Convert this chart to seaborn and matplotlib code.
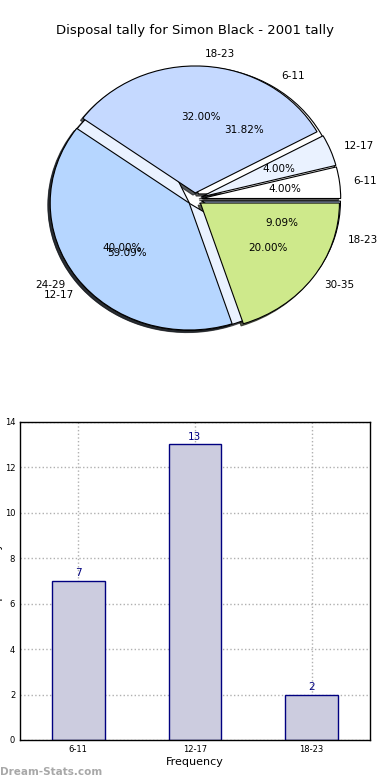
import matplotlib
matplotlib.use('Agg')
import matplotlib.pyplot as plt
import pandas as pd
import seaborn as sns

# overall tally (outer labels)
season_groups = ['6-11', '12-17', '18-23', '24-29', '30-35']
season_counts = [1, 1, 8, 10, 5]

# 2001 tally
year_groups = ['6-11', '12-17', '18-23']
year_counts = [7, 13, 2]

pie_colors = ['#ffffff', '#eaf2ff', '#c5d9ff', '#b6d6ff', '#cee98b']

sns.set_style('white')
plt.rcParams['font.family'] = ['DejaVu Sans']
plt.rcParams['text.color'] = 'black'
plt.rcParams['axes.labelcolor'] = 'black'
plt.rcParams['xtick.color'] = 'black'
plt.rcParams['ytick.color'] = 'black'

fig = plt.figure(figsize=(3.9, 7.8), dpi=100)

# ---- pie section ----
ax_pie = fig.add_axes([0.054, 0.541, 0.891, 0.407])
wedge_kw = {'edgecolor': 'black', 'linewidth': 0.8}
shadow_kw = {'ox': -0.012, 'oy': -0.012, 'shade': 0.85, 'alpha': 0.75}

ax_pie.pie(year_counts, labels=year_groups, colors=pie_colors[:3],
           explode=[0.05] * len(year_counts), autopct='%1.2f%%',
           shadow=shadow_kw, wedgeprops=wedge_kw, textprops={'fontsize': 7.5})
ax_pie.pie(season_counts, labels=season_groups, colors=pie_colors,
           explode=[0.05] * len(season_counts), autopct='%1.2f%%',
           shadow=shadow_kw, wedgeprops=wedge_kw, textprops={'fontsize': 7.5})
ax_pie.set_aspect('auto')
ax_pie.set_xlim(-1.25, 1.25)
ax_pie.set_ylim(-1.25, 1.25)
ax_pie.set_title('Disposal tally for Simon Black - 2001 tally', fontsize=9.5, pad=4.5)

# ---- bar section ----
df_bar = pd.DataFrame({'Age': year_groups, 'Tally': year_counts})

ax_bar = fig.add_axes([0.0513, 0.0513, 0.897, 0.408])
sns.barplot(data=df_bar, x='Age', y='Tally', order=year_groups, ax=ax_bar,
            color='#ccccdf', edgecolor='#000080', linewidth=1.0,
            width=0.45, saturation=1)
for i, v in enumerate(year_counts):
    ax_bar.text(i, v + 0.12, str(v), ha='center', va='bottom',
                color='#000080', fontsize=7.5)

ax_bar.set_xlim(-0.5, 2.5)
ax_bar.set_ylim(0, 14)
ax_bar.set_yticks(range(0, 15, 2))
ax_bar.grid(True, linestyle=':', color='#b0b0b0', linewidth=1.0)
ax_bar.set_axisbelow(True)
ax_bar.tick_params(labelsize=6, length=2, direction='in')
ax_bar.set_xlabel('Frequency', fontsize=8, labelpad=2)
ax_bar.set_ylabel('Disposal Tally', fontsize=8)
ax_bar.yaxis.set_label_coords(-0.048, 0.5)
for s in ax_bar.spines.values():
    s.set_visible(True)
    s.set_color('black')
    s.set_linewidth(1.0)

fig.text(0.0, 0.004, 'Dream-Stats.com', color='#a8a8a8', fontsize=7.5,
         fontweight='bold', ha='left', va='bottom')

fig.savefig('out.png', dpi=100)
